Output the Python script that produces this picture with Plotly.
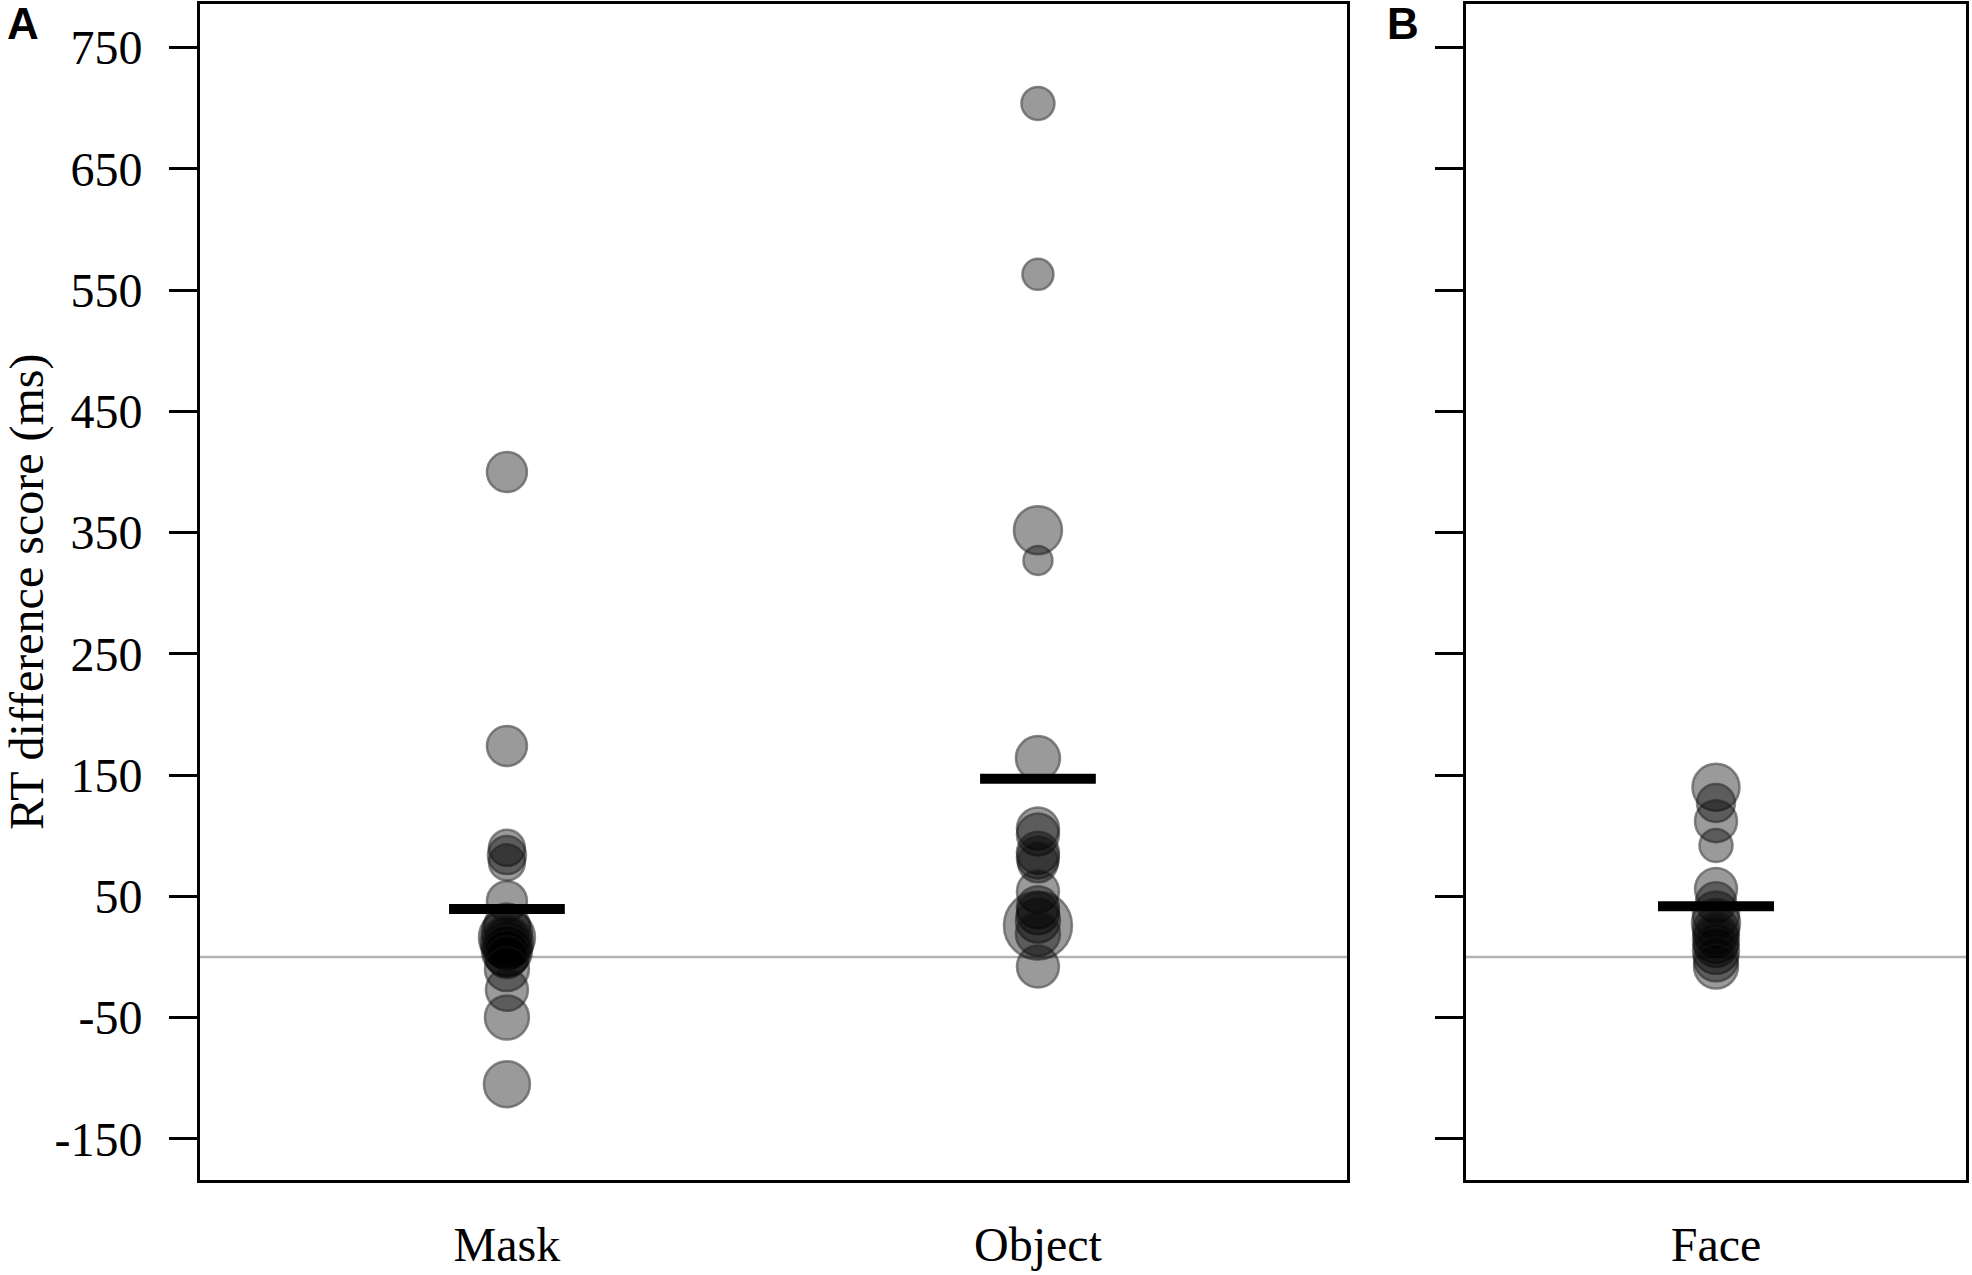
import plotly.graph_objects as go

# ---------------- data ----------------
categories_a = ["Mask", "Object"]
categories_b = ["Face"]

mask_values = [400, 174, 90, 84, 78, 46, 25, 20, 16, 14, 12, 10, 8, 5, 3, 0, -10, -27, -50, -105]
mask_sizes = [40, 40, 36, 38, 36, 40, 46, 50, 56, 44, 52, 48, 44, 50, 46, 42, 44, 42, 44, 46]

object_values = [704, 563, 352, 327, 164, 106, 101, 86, 82, 78, 54, 41, 36, 30, 26, 19, -8]
object_sizes = [33, 31, 48, 29, 44, 42, 42, 42, 42, 40, 42, 42, 42, 44, 68, 44, 42]

face_values = [140, 127, 112, 92, 56, 45, 35, 28, 22, 18, 14, 10, 5, -2, -8]
face_sizes = [47, 38, 42, 33, 42, 40, 46, 48, 46, 44, 46, 44, 46, 44, 44]

mean_values_a = [39.6, 147.0]
mean_values_b = [41.7]

y_ticks = [-150, -50, 50, 150, 250, 350, 450, 550, 650, 750]
y_tick_labels = ["-150", "-50", "50", "150", "250", "350", "450", "550", "650", "750"]
y_range = [-184, 786]

# ---------------- styling ----------------
W, H = 1972, 1275
serif = "Liberation Serif, Times New Roman, serif"
fill = "rgba(0,0,0,0.56)"
edge = "rgba(20,20,20,0.72)"
mean_half = 0.109

fig = go.Figure()

def add_points(xpos, vals, sizes, xa, ya):
    fig.add_trace(go.Scatter(
        x=[xpos] * len(vals), y=vals, mode="markers",
        xaxis=xa, yaxis=ya, showlegend=False, hoverinfo="y",
        marker=dict(size=sizes, color=fill, line=dict(color=edge, width=2.5)),
    ))

add_points(0, mask_values, mask_sizes, "x", "y")
add_points(1, object_values, object_sizes, "x", "y")
add_points(0, face_values, face_sizes, "x2", "y2")

for i, m in enumerate(mean_values_a):
    fig.add_trace(go.Scatter(x=[i - mean_half, i + mean_half], y=[m, m], mode="lines",
                             xaxis="x", yaxis="y", showlegend=False, hoverinfo="skip",
                             line=dict(color="black", width=10)))
for i, m in enumerate(mean_values_b):
    fig.add_trace(go.Scatter(x=[i - mean_half, i + mean_half], y=[m, m], mode="lines",
                             xaxis="x2", yaxis="y2", showlegend=False, hoverinfo="skip",
                             line=dict(color="black", width=10)))

# zero reference lines
for xr, yr in (("x domain", "y"), ("x2 domain", "y2")):
    fig.add_shape(type="line", xref=xr, yref=yr, x0=0, x1=1, y0=0, y1=0,
                  line=dict(color="#b3b3b3", width=2.5), layer="below")

ydom = [1 - 1180 / H, 1 - 4 / H]
common_y = dict(range=y_range, tickvals=y_ticks, ticktext=y_tick_labels, ticks="outside",
                ticklen=28, tickwidth=3,
                tickcolor="black", showline=True, mirror=True, linecolor="black", linewidth=3,
                showgrid=False, zeroline=False, domain=ydom,
                tickfont=dict(family=serif, size=48, color="black"))
common_x = dict(ticks="", showline=True, mirror=True, linecolor="black", linewidth=3,
                showgrid=False, zeroline=False,
                tickfont=dict(family=serif, size=48, color="black"), ticklabelstandoff=20)

fig.update_layout(
    width=W, height=H, margin=dict(l=0, r=0, t=0, b=0),
    paper_bgcolor="white", plot_bgcolor="white",
    xaxis=dict(domain=[200 / W, 1347 / W], range=[-0.578, 1.582], tickvals=[0, 1],
               ticktext=categories_a, anchor="y", **common_x),
    yaxis=dict(anchor="x", ticklabelstandoff=17, **common_y),
    xaxis2=dict(domain=[1466 / W, 1966 / W], range=[-0.47, 0.47], tickvals=[0],
                ticktext=categories_b, anchor="y2", **common_x),
    yaxis2=dict(anchor="x2", showticklabels=False, **common_y),
    annotations=[
        dict(text="RT difference score (ms)", x=27 / W, y=(ydom[0] + ydom[1]) / 2,
             xref="paper", yref="paper", textangle=-90, showarrow=False,
             font=dict(family=serif, size=48, color="black"), xanchor="center", yanchor="middle"),
        dict(text="<b>A</b>", x=23 / W, y=1 - 24 / H, xref="paper", yref="paper", showarrow=False,
             font=dict(family="Liberation Sans, Arial, sans-serif", size=44, color="black"),
             xanchor="center", yanchor="middle"),
        dict(text="<b>B</b>", x=1403 / W, y=1 - 24 / H, xref="paper", yref="paper", showarrow=False,
             font=dict(family="Liberation Sans, Arial, sans-serif", size=44, color="black"),
             xanchor="center", yanchor="middle"),
    ],
)

fig.write_html("out.html", config={"displayModeBar": False},
               post_script="document.body.style.margin='0';")
